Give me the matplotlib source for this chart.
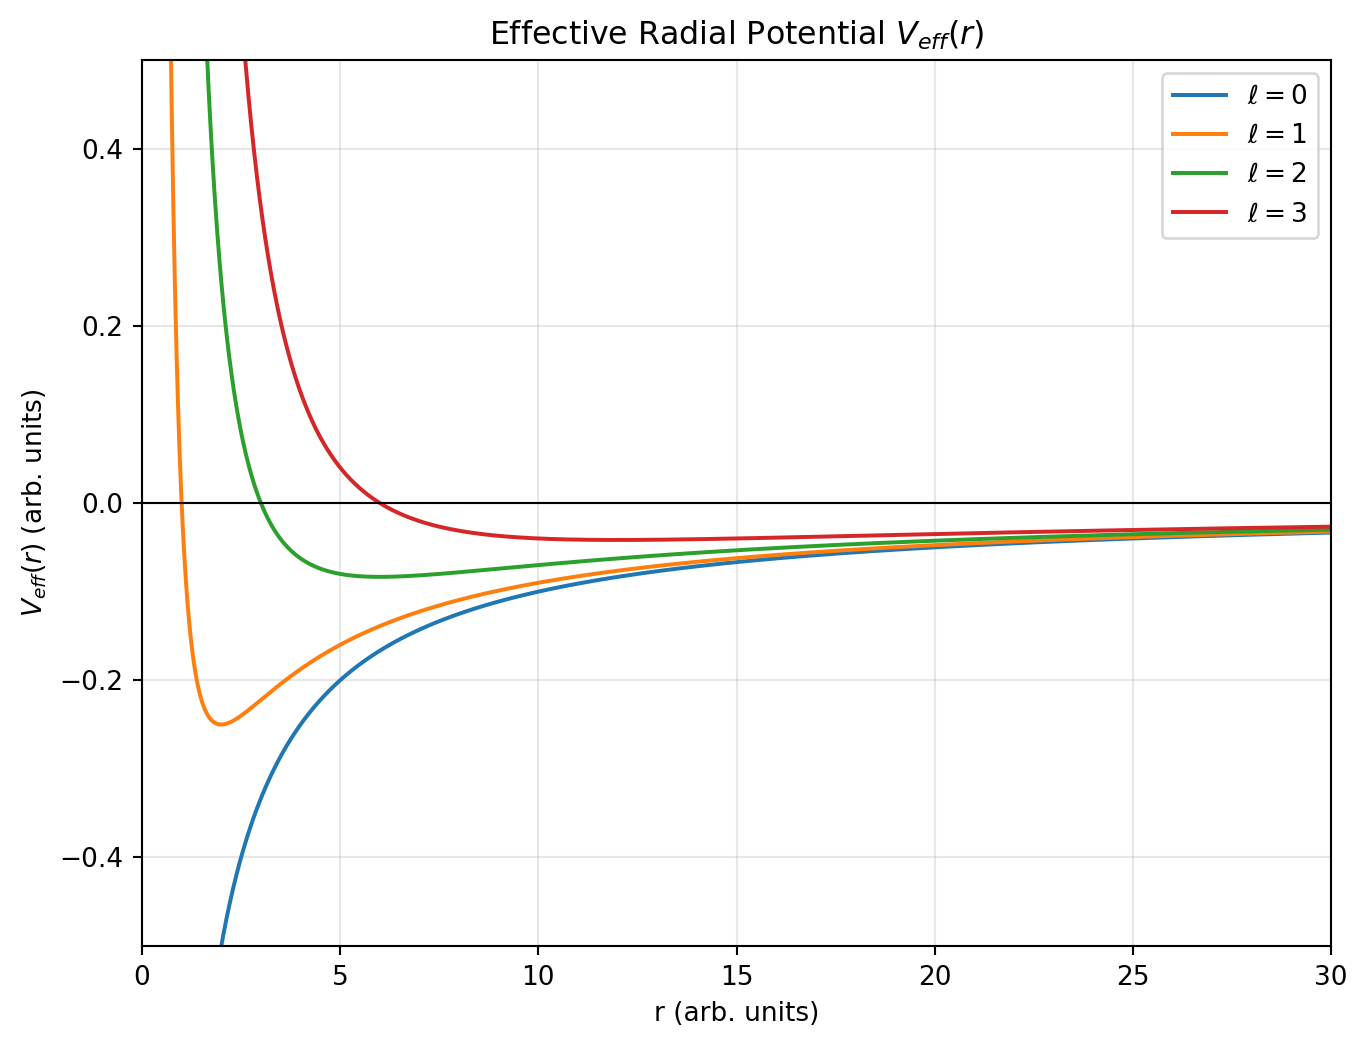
import numpy as np
import matplotlib
matplotlib.use("Agg")
from matplotlib import pyplot as plt

# angular momentum quantum numbers shown
ells = [0, 1, 2, 3]
labels = [r"$\ell = 0$", r"$\ell = 1$", r"$\ell = 2$", r"$\ell = 3$"]
r = np.linspace(0.05, 30, 3000)


def v_eff(r, l):
    # Coulomb term plus centrifugal barrier (arb. units)
    return -1.0 / r + l * (l + 1) / (2.0 * r ** 2)


DPI = 190
fig, ax = plt.subplots(figsize=(1368 / DPI, 1048 / DPI), dpi=DPI)

for l, lab in zip(ells, labels):
    ax.plot(r, v_eff(r, l), label=lab)

ax.axhline(0, color="black", lw=0.8)
ax.set_xlim(0, 30)
ax.set_ylim(-0.5, 0.5)
ax.set_xlabel("r (arb. units)")
ax.set_ylabel(r"$V_{eff}(r)$ (arb. units)")
ax.set_title(r"Effective Radial Potential $V_{eff}(r)$")
ax.grid(alpha=0.3)
ax.legend(loc="upper right")

fig.subplots_adjust(left=0.1038, right=0.973, top=0.9427, bottom=0.0973)
plt.savefig("out.png", dpi=DPI)
